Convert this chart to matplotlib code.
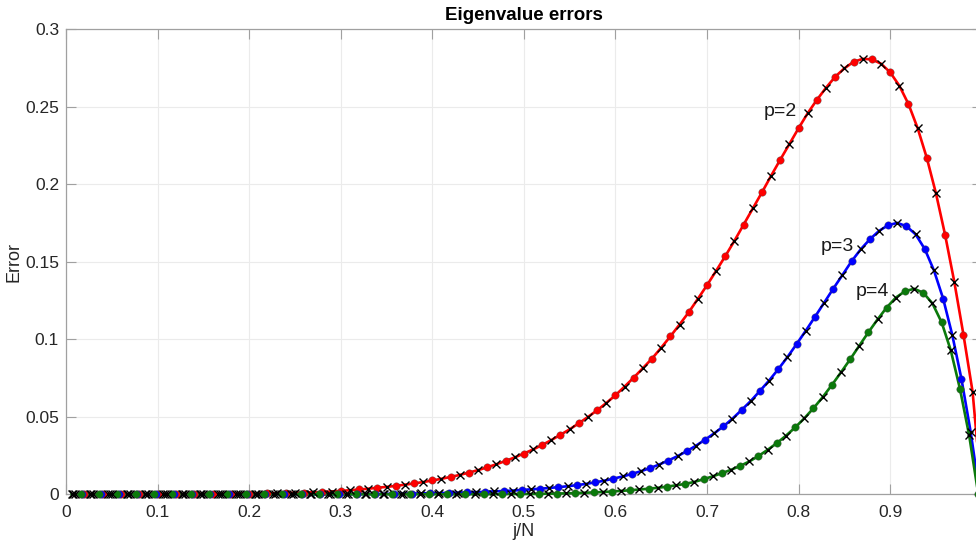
import numpy as np
import matplotlib
matplotlib.use("Agg")
import matplotlib.pyplot as plt

plt.rcParams['font.family'] = ['Liberation Sans', 'DejaVu Sans']

# mode index j = 1..N
N = 100
j = np.arange(1, N + 1)

# p=2 (red)
err_p2 = [0.0, 0.0, 0.0, 0.0, 0.0, 0.0, 0.0, 0.0, 0.0, 0.0001,
          0.0001, 0.0001, 0.0001, 0.0002, 0.0002, 0.0002, 0.0003, 0.0003, 0.0004, 0.0004,
          0.0005, 0.0006, 0.0007, 0.0008, 0.0010, 0.0011, 0.0013, 0.0015, 0.0018, 0.0022,
          0.0026, 0.0031, 0.0036, 0.0042, 0.0048, 0.0054, 0.0062, 0.0070, 0.0079, 0.0089,
          0.0100, 0.0112, 0.0125, 0.0140, 0.0156, 0.0174, 0.0194, 0.0215, 0.0238, 0.0263,
          0.0289, 0.0318, 0.0350, 0.0384, 0.0419, 0.0458, 0.0499, 0.0542, 0.0589, 0.0639,
          0.0695, 0.0753, 0.0814, 0.0876, 0.0946, 0.1019, 0.1095, 0.1174, 0.1261, 0.1349,
          0.1442, 0.1537, 0.1636, 0.1740, 0.1844, 0.1948, 0.2055, 0.2159, 0.2260, 0.2362,
          0.2459, 0.2545, 0.2623, 0.2694, 0.2748, 0.2790, 0.2809, 0.2806, 0.2778, 0.2722,
          0.2636, 0.2517, 0.2362, 0.2170, 0.1941, 0.1673, 0.1371, 0.1030, 0.0661, 0.0]

# p=3 (blue)
err_p3 = [0.0, 0.0, 0.0, 0.0, 0.0, 0.0, 0.0, 0.0, 0.0, 0.0,
          0.0, 0.0, 0.0, 0.0, 0.0, 0.0, 0.0, 0.0, 0.0, 0.0,
          0.0, 0.0, 0.0, 0.0, 0.0, 0.0, 0.0, 0.0, 0.0, 0.0001,
          0.0001, 0.0001, 0.0002, 0.0002, 0.0003, 0.0003, 0.0004, 0.0005, 0.0006, 0.0007,
          0.0008, 0.0009, 0.0011, 0.0012, 0.0014, 0.0016, 0.0019, 0.0021, 0.0024, 0.0028,
          0.0032, 0.0036, 0.0041, 0.0046, 0.0052, 0.0059, 0.0067, 0.0077, 0.0088, 0.0101,
          0.0115, 0.0131, 0.0149, 0.0169, 0.0192, 0.0218, 0.0246, 0.0278, 0.0313, 0.0352,
          0.0393, 0.0438, 0.0488, 0.0544, 0.0602, 0.0667, 0.0734, 0.0807, 0.0885, 0.0969,
          0.1055, 0.1144, 0.1235, 0.1326, 0.1414, 0.1503, 0.1580, 0.1645, 0.1699, 0.1736,
          0.1751, 0.1729, 0.1677, 0.1582, 0.1444, 0.1263, 0.1028, 0.0745, 0.0405, 0.0]

# p=4 (green)
err_p4 = [0.0, 0.0, 0.0, 0.0, 0.0, 0.0, 0.0, 0.0, 0.0, 0.0,
          0.0, 0.0, 0.0, 0.0, 0.0, 0.0, 0.0, 0.0, 0.0, 0.0,
          0.0, 0.0, 0.0, 0.0, 0.0, 0.0, 0.0, 0.0, 0.0, 0.0,
          0.0, 0.0, 0.0, 0.0, 0.0, 0.0, 0.0, 0.0, 0.0, 0.0,
          0.0, 0.0, 0.0, 0.0, 0.0001, 0.0001, 0.0001, 0.0001, 0.0002, 0.0002,
          0.0002, 0.0003, 0.0004, 0.0005, 0.0006, 0.0008, 0.0010, 0.0012, 0.0015, 0.0018,
          0.0022, 0.0026, 0.0031, 0.0036, 0.0042, 0.0049, 0.0058, 0.0067, 0.0080, 0.0097,
          0.0116, 0.0136, 0.0158, 0.0183, 0.0212, 0.0247, 0.0287, 0.0330, 0.0378, 0.0431,
          0.0490, 0.0555, 0.0626, 0.0704, 0.0786, 0.0870, 0.0958, 0.1045, 0.1128, 0.1205,
          0.1269, 0.1310, 0.1326, 0.1300, 0.1231, 0.1109, 0.0928, 0.0680, 0.0382, 0.0]

# small shift of the sample points seen between the three curves
shifts = [0.0, -0.0022, -0.0038]
labels = ['p=2', 'p=3', 'p=4']
label_pos = [(0.780, 0.247), (0.842, 0.160), (0.881, 0.131)]
colors = ['#ff0000', '#0000ff', '#0b7a0b']

xticks = [0, 0.1, 0.2, 0.3, 0.4, 0.5, 0.6, 0.7, 0.8, 0.9]
xticklabels = ['0', '0.1', '0.2', '0.3', '0.4', '0.5', '0.6', '0.7', '0.8', '0.9']
yticks = [0, 0.05, 0.1, 0.15, 0.2, 0.25, 0.3]
yticklabels = ['0', '0.05', '0.1', '0.15', '0.2', '0.25', '0.3']

fig = plt.figure(figsize=(9.76, 5.43), dpi=100)
# axes run a bit past the right edge of the figure, like the cropped original
ax = fig.add_axes([0.0676, 0.0897, 0.9383, 0.8564])

for errs, sh, col in zip([err_p2, err_p3, err_p4], shifts, colors):
    x = j / N + sh
    y = np.array(errs)
    ax.plot(x, y, color=col, lw=1.9, clip_on=False, zorder=3)
    even = (j % 2 == 0)
    ax.plot(x[even], y[even], 'o', color=col, mec=(0.25, 0.25, 0.25, 0.6), mew=0.4,
            ms=5.4, clip_on=False, zorder=4)
    ax.plot(x[~even], y[~even], 'x', color='k', ms=5.5, mew=1.0,
            clip_on=False, zorder=5)

for lab, (lx, ly) in zip(labels, label_pos):
    ax.text(lx, ly, lab, fontsize=14, ha='center', va='center', color='#1a1a1a')

ax.set_xlim(0, 1)
ax.set_ylim(0, 0.3)
ax.set_xticks(xticks)
ax.set_xticklabels(xticklabels)
ax.set_yticks(yticks)
ax.set_yticklabels(yticklabels)
ax.tick_params(direction='in', length=7, width=0.8, color='#a0a0a0',
               labelsize=12.5, labelcolor='#262626', top=True, right=True)
ax.tick_params(axis='x', pad=8)
ax.tick_params(axis='y', pad=5)
ax.grid(True, color='#ebebeb', lw=0.8)
ax.set_axisbelow(True)
for s in ax.spines.values():
    s.set_color('#a0a0a0')
    s.set_linewidth(0.9)

ax.set_xlabel('j/N', fontsize=13, color='#262626', labelpad=2)
ax.set_ylabel('Error', fontsize=13, color='#262626', labelpad=1.5)
ax.set_title('Eigenvalue errors', fontsize=13.5, fontweight='bold', pad=7)

fig.savefig('out.png', dpi=100)
